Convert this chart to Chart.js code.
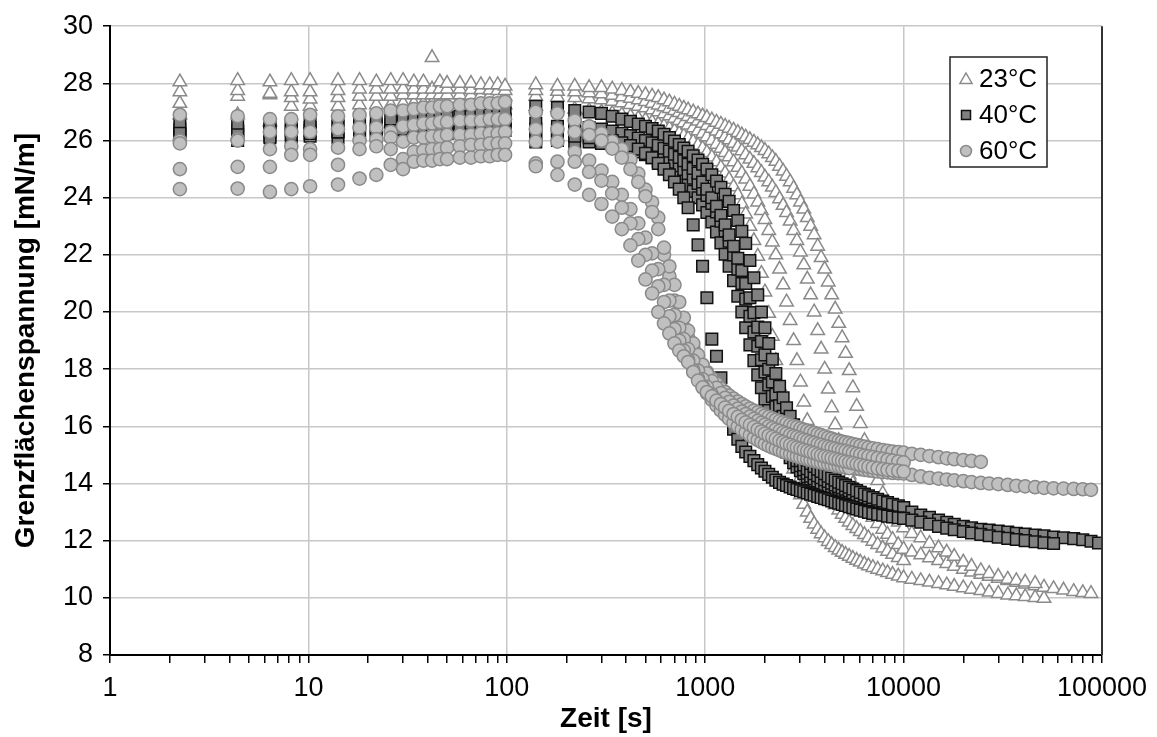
<!DOCTYPE html>
<html><head><meta charset="utf-8">
<script src="https://cdn.jsdelivr.net/npm/chart.js@4.4.1/dist/chart.umd.min.js"></script>
<style>html,body{margin:0;padding:0;background:#fff;}canvas{display:block;}</style>
</head><body>
<canvas id="c" width="1157" height="737"></canvas>
<script>
// ---- time grids (s) ----
const tMain = [
2.25, 4.4, 6.4, 8.2, 10.2, 14.1, 18.1, 22, 26, 30, 34, 38, 42, 46, 50, 58, 66, 74, 82, 90, 98,
140, 180, 220, 260, 300, 340, 380, 420, 460, 500, 540, 580, 620, 660, 700, 740, 780, 820, 870, 920,
970, 1020, 1080, 1140, 1200, 1260, 1320, 1390, 1460, 1530, 1600, 1680, 1760, 1840, 1920, 2000, 2090, 2180, 2270, 2370,
2470, 2570, 2680, 2790, 2900, 3020, 3140, 3270, 3400, 3540, 3690, 3840, 4000, 4170, 4340, 4520, 4710, 4900, 5100, 5320,
5550, 5800, 6050, 6350, 6650, 7000, 7400, 7850, 8300, 8800, 9400, 10000];
const tTail = [11000, 12200, 13500, 15000, 16500, 18000, 20000, 22000, 24500, 27000, 30000, 33500, 37000, 41000, 46000, 51000, 57000, 64000, 72000, 80000, 88000, 96000];

// ---- 23°C runs (mN/m) ----
const y23_1 = [
26.9, 26.9, 26.65, 27.2, 27.2, 27.2, 27.25, 27.25, 27.25, 27.3, 27.3, 27.3, 27.3, 27.3, 27.3, 27.3, 27.28, 27.28, 27.25, 27.25, 27.25,
27.2, 27.15, 27.1, 27.05, 27.0, 26.95, 26.9, 26.84, 26.78, 26.72, 26.65, 26.58, 26.5, 26.42, 26.34, 26.25, 26.16, 26.07, 25.96, 25.84,
25.72, 25.58, 25.42, 25.25, 25.06, 24.86, 24.64, 24.38, 24.1, 23.78, 23.43, 23.0, 22.5, 21.95, 21.35, 20.7, 19.95, 19.15, 18.3, 17.4,
16.55, 15.8, 15.1, 14.5, 14.0, 13.6, 13.27, 13.0, 12.78, 12.58, 12.4, 12.24, 12.1, 11.97, 11.86, 11.76, 11.67, 11.59, 11.52, 11.45,
11.38, 11.31, 11.25, 11.18, 11.12, 11.06, 11.0, 10.94, 10.88, 10.82, 10.76, 10.7];
const y23_1t = [10.65, 10.6, 10.55, 10.5, 10.45, 10.4, 10.35, 10.3, 10.25, 10.2, 10.15, 10.1, 10.07, 10.04, 10.01, 9.98, null, null, null, null, null, null];
const y23_2 = [
27.3, 27.55, 27.6, 27.5, 27.45, 27.5, 27.55, 27.55, 27.55, 27.6, 27.6, 27.6, 27.6, 27.6, 27.6, 27.6, 27.58, 27.58, 27.56, 27.55, 27.55,
27.55, 27.52, 27.5, 27.46, 27.42, 27.37, 27.32, 27.26, 27.2, 27.14, 27.07, 27.0, 26.93, 26.86, 26.78, 26.7, 26.62, 26.54, 26.44, 26.34,
26.24, 26.13, 26.0, 25.87, 25.73, 25.58, 25.43, 25.25, 25.06, 24.86, 24.65, 24.4, 24.13, 23.85, 23.55, 23.23, 22.85, 22.45, 22.0, 21.5,
20.95, 20.35, 19.7, 19.0, 18.3, 17.55, 16.85, 16.2, 15.6, 15.1, 14.65, 14.28, 13.95, 13.68, 13.45, 13.25, 13.07, 12.92, 12.78, 12.65,
12.53, 12.42, 12.32, 12.21, 12.1, 11.98, 11.86, 11.74, 11.63, 11.52, 11.41, 11.3];
const y23_3 = [
27.7, 27.75, 27.65, 27.7, 27.7, 27.75, 27.8, 27.8, 27.8, 27.8, 27.8, 27.8, 27.8, 27.8, 27.8, 27.8, 27.78, 27.78, 27.76, 27.75, 27.75,
27.75, 27.72, 27.7, 27.67, 27.63, 27.58, 27.53, 27.48, 27.42, 27.36, 27.3, 27.24, 27.18, 27.12, 27.05, 26.98, 26.91, 26.84, 26.76, 26.68,
26.6, 26.52, 26.43, 26.33, 26.23, 26.13, 26.02, 25.9, 25.77, 25.64, 25.5, 25.35, 25.2, 25.04, 24.88, 24.72, 24.55, 24.37, 24.18, 23.96,
23.73, 23.48, 23.18, 22.85, 22.5, 22.1, 21.65, 21.15, 20.6, 20.0, 19.35, 18.7, 18.0, 17.3, 16.65, 16.05, 15.5, 15.05, 14.65, 14.3,
14.0, 13.72, 13.48, 13.24, 13.03, 12.82, 12.6, 12.4, 12.22, 12.04, 11.86, 11.7];
const y23_3t = [11.6, 11.5, 11.4, 11.3, 11.2, 11.1, 11.0, 10.9, 10.82, 10.75, 10.68, 10.6, 10.54, 10.48, 10.42, 10.37, 10.32, 10.27, 10.22, 10.18, 10.15, null];
const y23_4 = [
28.05, 28.1, 28.05, 28.1, 28.1, 28.1, 28.1, 28.05, 28.1, 28.1, 28.05, 28.05, 28.9, 28.05, 28.0, 28.0, 28.0, 27.95, 27.95, 27.95, 27.9,
27.95, 27.9, 27.9, 27.85, 27.85, 27.8, 27.75, 27.7, 27.65, 27.6, 27.55, 27.5, 27.42, 27.35, 27.27, 27.2, 27.13, 27.07, 27.0, 26.93,
26.86, 26.8, 26.72, 26.64, 26.57, 26.5, 26.43, 26.36, 26.28, 26.2, 26.12, 26.03, 25.94, 25.85, 25.75, 25.65, 25.53, 25.4, 25.27, 25.1,
24.93, 24.75, 24.55, 24.33, 24.1, 23.85, 23.6, 23.3, 23.0, 22.7, 22.3, 21.9, 21.5, 21.05, 20.6, 20.1, 19.6, 19.1, 18.55, 17.95,
17.35, 16.7, 16.1, 15.5, 15.0, 14.55, 14.1, 13.65, 13.3, 12.95, 12.65, 12.45];
const y23_4t = [12.25, 12.1, 11.9, 11.75, 11.6, 11.45, 11.25, 11.1, 10.95, 10.85, 10.75, 10.65, 10.6, 10.55, 10.5, null, null, null, null, null, null, null];

// ---- 40°C runs ----
const y40_1 = [
26.15, 26.0, 26.15, 26.1, 26.15, 26.1, 26.15, 26.15, 26.2, 26.2, 26.2, 26.2, 26.25, 26.25, 26.25, 26.3, 26.3, 26.3, 26.3, 26.35, 26.35,
25.95, 26.0, 25.95, 25.95, 25.9, 25.85, 25.78, 25.7, 25.6, 25.5, 25.4, 25.28, 25.16, 25.03, 24.9, 24.76, 24.6, 24.43, 24.22, 24.0,
23.75, 23.48, 23.15, 22.8, 22.42, 22.02, 21.6, 21.1, 20.55, 20.0, 19.45, 18.85, 18.3, 17.8, 17.35, 16.95, 16.55, 16.2, 15.88, 15.58,
15.32, 15.1, 14.9, 14.73, 14.58, 14.45, 14.34, 14.24, 14.15, 14.07, 13.99, 13.92, 13.85, 13.79, 13.73, 13.67, 13.62, 13.57, 13.52, 13.47,
13.42, 13.38, 13.34, 13.3, 13.26, 13.22, 13.18, 13.14, 13.1, 13.06, 13.02, 12.98];
const y40_2 = [
26.2, 26.3, 26.3, 26.35, 26.35, 26.3, 26.35, 26.4, 26.4, 26.4, 26.45, 26.45, 26.45, 26.45, 26.5, 26.5, 26.5, 26.55, 26.55, 26.55, 26.6,
26.4, 26.35, 26.3, 26.25, 26.2, 26.12, 26.04, 25.96, 25.87, 25.78, 25.68, 25.58, 25.47, 25.36, 25.24, 25.12, 24.99, 24.85, 24.68, 24.5,
24.3, 24.08, 23.8, 23.5, 23.18, 22.84, 22.48, 22.0, 21.5, 21.0, 20.45, 19.85, 19.3, 18.8, 18.33, 17.9, 17.45, 17.05, 16.68, 16.3,
15.95, 15.62, 15.3, 15.02, 14.8, 14.62, 14.48, 14.36, 14.26, 14.17, 14.09, 14.02, 13.95, 13.88, 13.82, 13.76, 13.7, 13.65, 13.6, 13.55,
13.5, 13.45, 13.41, 13.37, 13.33, 13.29, 13.25, 13.21, 13.17, 13.13, 13.1, 13.07];
const y40_3 = [
26.4, 26.35, 26.4, 26.45, 26.45, 26.5, 26.5, 26.5, 26.55, 26.55, 26.55, 26.6, 26.6, 26.6, 26.6, 26.65, 26.65, 26.7, 26.7, 26.7, 26.75,
26.6, 26.5, 26.5, 26.45, 26.4, 26.33, 26.25, 26.17, 26.09, 26.0, 25.92, 25.83, 25.73, 25.63, 25.52, 25.41, 25.29, 25.17, 25.02, 24.86,
24.55, 24.3, 24.0, 23.7, 23.38, 23.05, 22.7, 22.3, 21.88, 21.45, 21.0, 20.5, 19.98, 19.47, 18.97, 18.5, 18.0, 17.55, 17.12, 16.72,
16.35, 16.0, 15.62, 15.28, 15.0, 14.8, 14.65, 14.52, 14.42, 14.34, 14.27, 14.2, 14.13, 14.07, 14.01, 13.95, 13.9, 13.85, 13.8, 13.75,
13.68, 13.62, 13.57, 13.52, 13.47, 13.42, 13.37, 13.32, 13.27, 13.23, 13.19, 13.15];
const y40_4 = [
26.6, 26.5, 26.55, 26.6, 26.6, 26.65, 26.65, 26.7, 26.7, 26.7, 26.75, 26.75, 26.75, 26.8, 26.8, 26.85, 26.85, 26.9, 26.9, 26.95, 27.0,
27.2, 27.15, 27.05, 27.0, 26.95, 26.85, 26.75, 26.67, 26.58, 26.5, 26.42, 26.33, 26.22, 26.1, 25.98, 25.86, 25.74, 25.62, 25.47, 25.32,
25.17, 25.0, 24.8, 24.58, 24.36, 24.12, 23.87, 23.55, 23.2, 22.82, 22.4, 21.8, 21.2, 20.6, 20.0, 19.45, 18.9, 18.35, 17.85, 17.4,
17.0, 16.65, 16.35, 16.05, 15.7, 15.3, 15.0, 14.82, 14.7, 14.6, 14.5, 14.42, 14.34, 14.26, 14.19, 14.12, 14.05, 13.99, 13.93, 13.87,
13.81, 13.75, 13.69, 13.63, 13.57, 13.51, 13.45, 13.39, 13.33, 13.27, 13.22, 13.16];
const y40_4t = [13.0, 12.9, 12.82, 12.72, 12.64, 12.57, 12.5, 12.45, 12.4, 12.37, 12.34, 12.3, 12.26, 12.23, 12.2, 12.17, 12.13, 12.1, 12.07, 12.03, 11.98, 11.92];
const y40_5 = [
26.25, 26.2, 26.1, 26.2, 26.25, 26.3, 26.3, 26.35, 26.35, 26.4, 26.4, 26.45, 26.5, 26.5, 26.55, 26.55, 26.6, 26.6, 26.65, 26.65, 26.7,
26.2, 26.2, 26.15, 26.1, 26.05, 26.0, 25.92, 25.82, 25.7, 25.55, 25.4, 25.2, 25.0, 24.8, 24.55, 24.3, 24.0, 23.65, 23.05, 22.35,
21.6, 20.5, 19.05, 18.45, 17.7, 17.0, 16.4, 15.9, 15.55, 15.3, 15.1, 14.95, 14.8, 14.66, 14.54, 14.43, 14.32, 14.22, 14.12, 14.04,
13.98, 13.93, 13.88, 13.83, 13.79, 13.75, 13.71, 13.67, 13.63, 13.59, 13.55, 13.51, 13.47, 13.43, 13.39, 13.35, 13.31, 13.27, 13.23, 13.19,
13.15, 13.11, 13.07, 13.03, 12.99, 12.95, 12.92, 12.89, 12.86, 12.83, 12.8, 12.78];
const y40_5t = [12.72, 12.65, 12.58, 12.5, 12.44, 12.38, 12.32, 12.27, 12.22, 12.17, 12.12, 12.08, 12.04, 12.0, 11.96, 11.93, 11.9, null, null, null, null, null];

// ---- 60°C runs ----
const y60_1 = [
26.9, 26.85, 26.75, 26.75, 26.9, 26.85, 26.9, 26.95, 27.05, 27.05, 27.1, 27.15, 27.15, 27.2, 27.2, 27.25, 27.25, 27.3, 27.3, 27.3, 27.35,
27.0, 26.95, 26.7, 26.5, 26.25, 25.97, 25.7, 25.33, 24.84, 24.28, 23.84, 23.3, 22.0, 21.25, 20.4, 19.8, 19.45, 19.1, 18.78, 18.45,
18.15, 17.9, 17.68, 17.5, 17.33, 17.2, 17.08, 16.97, 16.87, 16.78, 16.7, 16.62, 16.55, 16.49, 16.43, 16.38, 16.33, 16.28, 16.23, 16.18,
16.14, 16.1, 16.05, 16.01, 15.97, 15.93, 15.89, 15.85, 15.81, 15.77, 15.73, 15.69, 15.65, 15.61, 15.57, 15.53, 15.5, 15.47, 15.44, 15.41,
15.38, 15.35, 15.32, 15.29, 15.26, 15.23, 15.2, 15.17, 15.14, 15.12, 15.1, 15.08];
const y60_1t = [15.04, 15.0, 14.96, 14.92, 14.88, 14.85, 14.82, 14.79, 14.76, null, null, null, null, null, null, null, null, null, null, null, null, null];
const y60_2 = [
26.0, 26.05, 26.3, 26.3, 26.3, 26.4, 26.45, 26.45, 26.3, 26.5, 26.55, 26.6, 26.6, 26.65, 26.65, 26.7, 26.7, 26.7, 26.75, 26.75, 26.75,
26.4, 26.4, 26.3, 26.2, 26.0, 25.72, 25.4, 25.0, 24.55, 24.05, 23.5, 22.9, 22.25, 21.6, 20.95, 20.35, 19.8, 19.35, 18.9, 18.5,
18.15, 17.85, 17.58, 17.35, 17.16, 17.0, 16.86, 16.73, 16.62, 16.52, 16.43, 16.34, 16.26, 16.19, 16.12, 16.06, 16.0, 15.94, 15.89, 15.84,
15.79, 15.75, 15.7, 15.66, 15.62, 15.58, 15.54, 15.5, 15.46, 15.42, 15.38, 15.35, 15.31, 15.28, 15.25, 15.22, 15.19, 15.16, 15.13, 15.1,
15.07, 15.04, 15.01, 14.98, 14.95, 14.92, 14.89, 14.86, 14.83, 14.8, 14.77, 14.74];
const y60_3 = [
25.9, 26.0, 25.7, 25.8, 25.7, 25.75, 26.0, 26.05, 26.1, 25.96, 26.1, 26.1, 26.15, 26.15, 26.2, 26.2, 26.2, 26.25, 26.25, 26.25, 26.3,
25.96, 25.96, 25.6, 25.3, 24.95, 24.55, 24.1, 23.6, 23.1, 22.6, 22.05, 21.5, 20.95, 20.4, 19.9, 19.45, 19.05, 18.7, 18.3, 17.95,
17.65, 17.38, 17.12, 16.9, 16.7, 16.53, 16.38, 16.23, 16.1, 15.98, 15.87, 15.77, 15.68, 15.6, 15.53, 15.46, 15.4, 15.34, 15.28, 15.23,
15.18, 15.13, 15.09, 15.05, 15.01, 14.97, 14.93, 14.9, 14.87, 14.84, 14.81, 14.78, 14.75, 14.72, 14.69, 14.66, 14.63, 14.61, 14.58, 14.56,
14.54, 14.52, 14.5, 14.48, 14.46, 14.44, 14.42, 14.4, 14.39, 14.37, 14.36, 14.35];
const y60_3t = [14.3, 14.25, 14.2, 14.17, 14.14, 14.11, 14.08, 14.05, 14.02, 14.0, 13.98, 13.95, 13.92, 13.9, 13.87, 13.85, 13.83, 13.82, 13.81, 13.8, 13.78, null];
const y60_4 = [
25.0, 25.08, 25.08, 25.5, 25.5, 25.15, 25.7, 25.8, 25.7, 25.35, 25.6, 25.65, 25.7, 25.7, 25.75, 25.8, 25.85, 25.85, 25.9, 25.9, 25.9,
25.2, 25.26, 25.26, 24.9, 24.6, 24.15, 23.65, 23.1, 22.55, 22.0, 21.45, 20.9, 20.35, 19.85, 19.4, 19.0, 18.65, 18.32, 17.97, 17.67,
17.4, 17.16, 16.93, 16.73, 16.55, 16.4, 16.26, 16.12, 16.0, 15.89, 15.79, 15.69, 15.6, 15.52, 15.45, 15.38, 15.32, 15.26, 15.21, 15.16,
15.11, 15.07, 15.03, 14.99, 14.95, 14.91, 14.88, 14.85, 14.82, 14.79, 14.76, 14.73, 14.7, 14.67, 14.65, 14.62, 14.6, 14.58, 14.56, 14.54,
null, null, null, null, null, null, null, null, null, null, null, null];
const y60_5 = [
24.3, 24.32, 24.2, 24.3, 24.4, 24.46, 24.67, 24.8, 25.15, 25.0, 25.26, 25.3, 25.3, 25.35, 25.35, 25.4, 25.4, 25.45, 25.45, 25.5, 25.5,
25.1, 24.8, 24.46, 24.1, 23.78, 23.34, 22.9, 22.33, 21.8, 21.14, 20.65, 20.0, 19.6, 19.25, 18.9, 18.65, 18.45, 18.25, 17.9, 17.6,
17.36, 17.2, 17.05, 16.9, 16.78, 16.66, 16.54, 16.43, 16.33, 16.23, 16.14, 16.05, 15.97, 15.89, 15.82, 15.75, 15.68, 15.62, 15.56, 15.5,
15.45, 15.4, 15.35, 15.3, 15.26, 15.22, 15.18, 15.14, 15.1, 15.06, 15.02, 14.98, 14.95, 14.92, 14.89, 14.86, 14.83, 14.8, 14.77, 14.74,
14.71, 14.68, 14.65, 14.62, 14.59, 14.56, 14.53, 14.5, 14.48, 14.46, 14.44, 14.42];

// ---- axis ticks ----
const xTickValues = [];
for (let e = 0; e < 5; e++) for (let m = 1; m < 10; m++) xTickValues.push(m * Math.pow(10, e));
xTickValues.push(100000);
const yTickStep = 2;
const seriesLabels = ['23°C', '40°C', '60°C'];

function pts(ts, ys) {
  const out = [];
  for (let i = 0; i < ts.length; i++) if (ys[i] !== null && ys[i] !== undefined) out.push({x: ts[i], y: ys[i]});
  return out;
}
const d23 = [].concat(pts(tMain, y23_1), pts(tTail, y23_1t), pts(tMain, y23_2), pts(tMain, y23_3), pts(tTail, y23_3t), pts(tMain, y23_4), pts(tTail, y23_4t));
const d40 = [].concat(pts(tMain, y40_1), pts(tMain, y40_2), pts(tMain, y40_3), pts(tMain, y40_4), pts(tTail, y40_4t), pts(tMain, y40_5), pts(tTail, y40_5t));
const d60 = [].concat(pts(tMain, y60_1), pts(tTail, y60_1t), pts(tMain, y60_2), pts(tMain, y60_3), pts(tTail, y60_3t), pts(tMain, y60_4), pts(tMain, y60_5));

const FAM = '"Liberation Sans", Arial, Helvetica, sans-serif';
const isDecade = v => Math.abs(Math.log10(v) - Math.round(Math.log10(v))) < 1e-6;

const styles = [
  {pointStyle: 'triangle', pointRadius: 7.8, pointBackgroundColor: '#ffffff', pointBorderColor: '#8a8a8a', pointBorderWidth: 1.5, order: 3},
  {pointStyle: 'rect', pointRadius: 8.2, pointBackgroundColor: '#808080', pointBorderColor: '#111111', pointBorderWidth: 1.5, order: 2},
  {pointStyle: 'circle', pointRadius: 6.6, pointBackgroundColor: '#c0c0c0', pointBorderColor: '#8a8a8a', pointBorderWidth: 1.5, order: 1}
];

const bgPlugin = {
  id: 'bg',
  beforeDraw(chart) {
    const c = chart.ctx; c.save(); c.fillStyle = '#fff'; c.fillRect(0, 0, chart.width, chart.height); c.restore();
  }
};
const framePlugin = {
  id: 'frame',
  afterDraw(chart) {
    const a = chart.chartArea, c = chart.ctx;
    c.save();
    c.strokeStyle = '#333'; c.lineWidth = 2;
    c.beginPath(); c.moveTo(a.right, a.top); c.lineTo(a.right, a.bottom); c.stroke();
    // legend box
    const bx = 950, by = 57, bw = 97, bh = 110;
    c.fillStyle = '#fff'; c.fillRect(bx, by, bw, bh);
    c.lineWidth = 1.5; c.strokeStyle = '#222'; c.strokeRect(bx, by, bw, bh);
    const rows = [79, 115, 151];
    const mx = 966;
    let r = 7, y = rows[0] + 1;
    c.beginPath();
    c.moveTo(mx, y - r); c.lineTo(mx + r * 0.866, y + r * 0.5); c.lineTo(mx - r * 0.866, y + r * 0.5); c.closePath();
    c.fillStyle = '#fff'; c.fill(); c.strokeStyle = '#8a8a8a'; c.lineWidth = 1.5; c.stroke();
    y = rows[1];
    c.beginPath(); c.rect(mx - 4.5, y - 4.5, 9, 9);
    c.fillStyle = '#808080'; c.fill(); c.strokeStyle = '#111'; c.stroke();
    y = rows[2];
    c.beginPath(); c.arc(mx, y, 5.5, 0, Math.PI * 2);
    c.fillStyle = '#c0c0c0'; c.fill(); c.strokeStyle = '#8a8a8a'; c.stroke();
    c.fillStyle = '#000'; c.font = '26px ' + FAM; c.textBaseline = 'middle'; c.textAlign = 'left';
    seriesLabels.forEach((s, i) => c.fillText(s, 979, rows[i] + 1));
    c.restore();
  }
};

new Chart(document.getElementById('c'), {
  type: 'scatter',
  data: {
    datasets: [
      Object.assign({label: seriesLabels[0], data: d23, showLine: false}, styles[0]),
      Object.assign({label: seriesLabels[1], data: d40, showLine: false}, styles[1]),
      Object.assign({label: seriesLabels[2], data: d60, showLine: false}, styles[2])
    ]
  },
  options: {
    responsive: false, animation: false, devicePixelRatio: 1,
    layout: {padding: {left: 0, right: 55, top: 24, bottom: 0}},
    plugins: {legend: {display: false}, tooltip: {enabled: false}},
    scales: {
      x: {
        type: 'logarithmic', min: 1, max: 100000,
        afterBuildTicks: s => { s.ticks = xTickValues.map(v => ({value: v})); },
        afterFit: s => { s.height = 82; },
        ticks: {autoSkip: false, maxRotation: 0, minRotation: 0, padding: 9, color: '#000',
          font: {family: FAM, size: 27, lineHeight: 1.2},
          callback: v => isDecade(v) ? String(Math.round(v)) : ''},
        grid: {color: c => (c.tick && isDecade(c.tick.value)) ? '#c8c8c8' : 'rgba(0,0,0,0)',
          lineWidth: 1.5, tickColor: '#000', tickWidth: 1.5, tickLength: 8},
        border: {color: '#000', width: 2},
        title: {display: true, text: 'Zeit [s]', color: '#000', font: {family: FAM, size: 28, weight: 'bold', lineHeight: 1.2}, padding: {top: 0, bottom: 1}}
      },
      y: {
        min: 8, max: 30,
        afterFit: s => { s.width = 110; },
        ticks: {stepSize: yTickStep, padding: 10, color: '#000', font: {family: FAM, size: 27, lineHeight: 1.2}},
        grid: {color: '#c8c8c8', lineWidth: 1.5, tickColor: '#000', tickWidth: 1.5, tickLength: 7},
        border: {color: '#000', width: 2},
        title: {display: true, text: 'Grenzflächenspannung [mN/m]', color: '#000', font: {family: FAM, size: 28, weight: 'bold', lineHeight: 1.2}, padding: {top: 9, bottom: 0}}
      }
    }
  },
  plugins: [bgPlugin, framePlugin]
});
</script>
</body></html>
